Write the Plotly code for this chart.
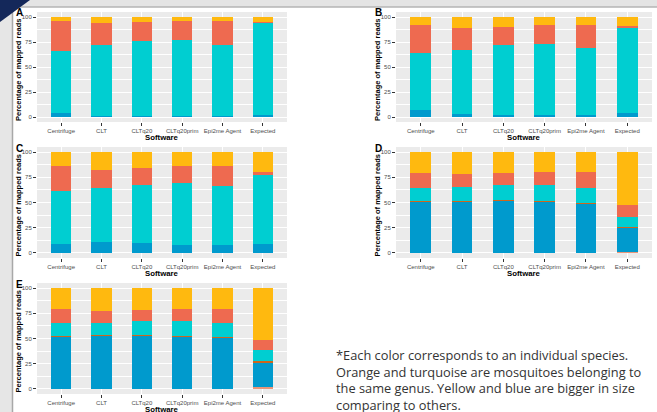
import plotly.graph_objects as go

W, H = 657, 412

software = ["Centrifuge", "CLT", "CLTq20", "CLTq20prim", "Epi2me Agent", "Expected"]
y_ticks = [0, 25, 50, 75, 100]

species = ["pink", "blue", "brown", "turquoise", "orange", "yellow"]
species_colors = ["#E9967A", "#009ACD", "#CD661D", "#00CED1", "#EE6A50", "#FFB90F"]

# values per panel, per species (bottom to top), per software
panel_A = {
    "pink":      [0, 0, 0, 0, 0, 0],
    "blue":      [4, 1, 1, 1, 1, 2],
    "brown":     [0, 0, 0, 0, 0, 0],
    "turquoise": [62.5, 71, 75, 76, 71, 92.5],
    "orange":    [29.5, 22, 19, 19, 24, 1],
    "yellow":    [4, 6, 5, 4, 4, 4.5],
}
panel_B = {
    "pink":      [0, 0, 0, 0, 0, 0],
    "blue":      [7, 3, 2.3, 2.3, 2.3, 4],
    "brown":     [0, 0, 0, 0, 0, 0],
    "turquoise": [57, 64.5, 69.7, 71.2, 66.7, 85.5],
    "orange":    [28, 21.5, 18, 18.5, 23, 1.5],
    "yellow":    [8, 11, 10, 8, 8, 9],
}
panel_C = {
    "pink":      [0, 0, 0, 0, 0, 0],
    "blue":      [8.5, 10.7, 9.8, 8, 8, 8.5],
    "brown":     [0, 0, 0, 0, 0, 0],
    "turquoise": [53, 53.3, 58, 61.7, 58.4, 68.4],
    "orange":    [25, 18.4, 16.6, 16.9, 20.2, 3.6],
    "yellow":    [13.5, 17.6, 15.6, 13.4, 13.4, 19.5],
}
panel_D = {
    "pink":      [0, 0, 0, 0, 0, 1],
    "blue":      [50.5, 50.5, 52, 51.3, 49, 23.8],
    "brown":     [0.5, 0.5, 0.4, 0.5, 0.5, 1],
    "turquoise": [13.5, 14.5, 14.6, 15.2, 15.3, 10.2],
    "orange":    [15, 12.7, 12, 12.8, 15, 11.2],
    "yellow":    [20.5, 21.8, 21, 20.2, 20.2, 52.8],
}
panel_E = {
    "pink":      [0, 0, 0, 0, 0, 2],
    "blue":      [52, 53, 53.3, 52, 51, 23.8],
    "brown":     [0.5, 0.5, 0.5, 0.5, 0.5, 1.7],
    "turquoise": [12.5, 12.2, 13.2, 14.5, 14.2, 10.7],
    "orange":    [13.8, 11.3, 11, 12, 13.3, 10.2],
    "yellow":    [21.2, 23, 22, 21, 21, 51.6],
}

panel_letters = ["A", "B", "C", "D", "E"]
panels = [panel_A, panel_B, panel_C, panel_D, panel_E]
# pixel boxes (x0, x1, y0, y1) from top-left
boxes = [
    (37, 287, 12, 122),
    (396, 652, 12, 122),
    (37, 287, 147, 258),
    (396, 652, 147, 258),
    (37, 287, 283, 394),
]

def px(x):
    return x / W

def py(y):
    return 1 - y / H

fig = go.Figure()
layout = {}
annotations = []
shapes = []

# slide decoration
shapes.append(dict(type="rect", xref="paper", yref="paper", x0=0, x1=px(12), y0=0, y1=1,
                   fillcolor="#E6E6E6", line=dict(width=0), layer="below"))
shapes.append(dict(type="line", xref="paper", yref="paper", x0=px(12.5), x1=px(12.5), y0=0, y1=py(6),
                   line=dict(color="#A8A8A8", width=1.5), layer="below"))
shapes.append(dict(type="rect", xref="paper", yref="paper", x0=0, x1=1, y0=py(7), y1=1,
                   fillcolor="#E4E4E4", line=dict(width=0), layer="below"))
shapes.append(dict(type="line", xref="paper", yref="paper", x0=px(12), x1=1, y0=py(7), y1=py(7),
                   line=dict(color="#B5B5B5", width=1.5), layer="below"))

tick_font = dict(family="Liberation Sans, Arial, sans-serif", size=6, color="#4D4D4D")

for i, (panel, box, letter) in enumerate(zip(panels, boxes, panel_letters)):
    x0, x1, y0, y1 = box
    xa = "xaxis" if i == 0 else f"xaxis{i+1}"
    ya = "yaxis" if i == 0 else f"yaxis{i+1}"
    xr = "x" if i == 0 else f"x{i+1}"
    yr = "y" if i == 0 else f"y{i+1}"
    for sp, col in zip(species, species_colors):
        fig.add_trace(go.Bar(
            x=software, y=panel[sp], name=sp, marker_color=col,
            marker_line_width=0, width=0.5, xaxis=xr, yaxis=yr, showlegend=False,
        ))
    layout[xa] = dict(
        domain=[px(x0), px(x1)], anchor=yr, type="category", automargin=False,
        categoryorder="array", categoryarray=software, range=[-0.6, 5.6],
        showgrid=True, gridcolor="white", gridwidth=1.1,
        ticks="outside", ticklen=3, tickcolor="#333333", tickwidth=0.8,
        tickfont=tick_font, zeroline=False, showline=False, fixedrange=True,
    )
    layout[ya] = dict(
        domain=[py(y1), py(y0)], anchor=xr, range=[-5, 105], automargin=False,
        tickvals=y_ticks, ticktext=[str(v) for v in y_ticks],
        showgrid=True, gridcolor="white", gridwidth=1.1,
        minor=dict(tickvals=[12.5, 37.5, 62.5, 87.5], showgrid=True, gridcolor="white", gridwidth=0.5),
        ticks="outside", ticklen=3, tickcolor="#333333", tickwidth=0.8,
        tickfont=tick_font, zeroline=False, showline=False,
    )
    shapes.append(dict(type="rect", xref="paper", yref="paper", x0=px(x0), x1=px(x1),
                       y0=py(y1), y1=py(y0), fillcolor="#EBEBEB", line=dict(width=0), layer="below"))
    # y title
    cx_title = x0 - 19
    annotations.append(dict(text="<b>Percentage of mapped reads</b>", textangle=-90,
                            x=px(cx_title), y=py((y0 + y1) / 2 + 3), xref="paper", yref="paper",
                            showarrow=False, xanchor="center", yanchor="middle",
                            font=dict(family="Liberation Sans, Arial, sans-serif", size=7.5, color="black")))
    annotations.append(dict(text=f"<b>{letter}</b>", x=px(cx_title + 1), y=py(y0 + 1), xref="paper", yref="paper",
                            showarrow=False, xanchor="center", yanchor="middle",
                            font=dict(family="Liberation Sans, Arial, sans-serif", size=10, color="black")))
    sw_off = 15 if i == 4 else 15.5
    annotations.append(dict(text="<b>Software</b>", x=px((x0 + x1) / 2), y=py(y1 + sw_off),
                            xref="paper", yref="paper", showarrow=False, xanchor="center", yanchor="middle",
                            font=dict(family="Liberation Sans, Arial, sans-serif", size=7.8, color="black")))

# navy corner triangle on an overlay pixel axis
fig.add_trace(go.Scatter(x=[0, 30, 0, 0], y=[0, 0, 22, 0], mode="lines", fill="toself",
                         fillcolor="#14285A", line=dict(width=0, color="#14285A"),
                         xaxis="x6", yaxis="y6", showlegend=False, hoverinfo="skip"))
layout["xaxis6"] = dict(domain=[0, 1], range=[0, W], visible=False, anchor="y6", automargin=False, fixedrange=True)
layout["yaxis6"] = dict(domain=[0, 1], range=[H, 0], visible=False, anchor="x6", automargin=False, fixedrange=True)

note_lines = [
    "*Each color corresponds to an individual species.",
    "Orange and turquoise are mosquitoes belonging to",
    "the same genus. Yellow and blue are bigger in size",
    "comparing to others.",
]
for k, line in enumerate(note_lines):
    annotations.append(dict(text=line, x=px(334), y=py(355 + 16.5 * k), xref="paper", yref="paper",
                            showarrow=False, xanchor="left", yanchor="middle",
                            font=dict(family="Open Sans, sans-serif", size=12.8, color="#333333")))

fig.update_layout(
    width=W, height=H, margin=dict(l=0, r=0, t=0, b=0, autoexpand=False),
    paper_bgcolor="white", plot_bgcolor="rgba(0,0,0,0)",
    barmode="stack", bargap=0.5,
    annotations=annotations, shapes=shapes, **layout,
)

fig.write_html("out.html", config={"displayModeBar": False},
               post_script="document.body.style.margin='0';")
